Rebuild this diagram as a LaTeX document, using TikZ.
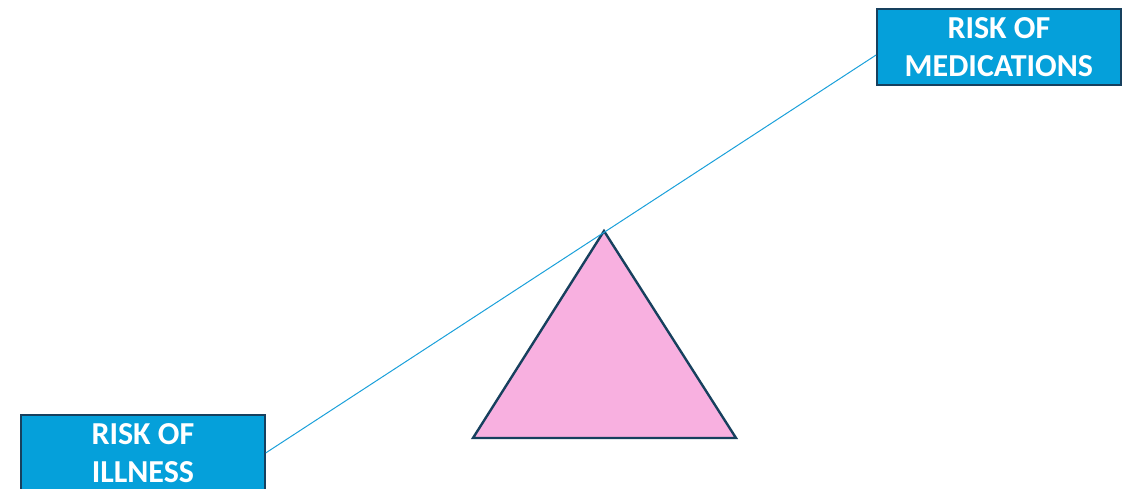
\documentclass[tikz,border=0pt]{standalone}
\usepackage{fontspec}
\setmainfont{Carlito}
\usetikzlibrary{calc}
\definecolor{boxblue}{HTML}{05A0DA}
\definecolor{boxedge}{HTML}{17405E}
\definecolor{pinkfill}{HTML}{F8B0E0}
\definecolor{lineblue}{HTML}{1AA0DA}
\tikzset{
  riskbox/.style={draw=boxedge, line width=1.8pt, fill=boxblue, text=white,
    minimum width=244pt, minimum height=76pt, inner sep=0pt, align=center,
    font=\fontsize{32}{38}\selectfont\bfseries},
  beam/.style={draw=lineblue, line width=1pt},
  fulcrum/.style={draw=boxedge, line width=2.4pt, fill=pinkfill, line join=miter}
}
\begin{document}
\begin{tikzpicture}[x=1pt,y=1pt]
\useasboundingbox (0,0) rectangle (1132,489);
\node[riskbox, anchor=north west] (med) at (876,481) {\raisebox{-2pt}{RISK OF}\\\raisebox{-2pt}{MEDICATIONS}};
\node[riskbox, anchor=north west] (ill) at (20,75) {\raisebox{-2pt}{RISK OF}\\\raisebox{-2pt}{ILLNESS}};
\coordinate (apex) at (604,258);
\coordinate (bl) at (473,51);
\coordinate (br) at (736,51);
\coordinate (medin) at ($(med.south west)!0.395!(med.north west)$);
\draw[fulcrum] (apex) -- (br) -- (bl) -- cycle;
\draw[beam] (ill.east) -- (medin);
\end{tikzpicture}
\end{document}
